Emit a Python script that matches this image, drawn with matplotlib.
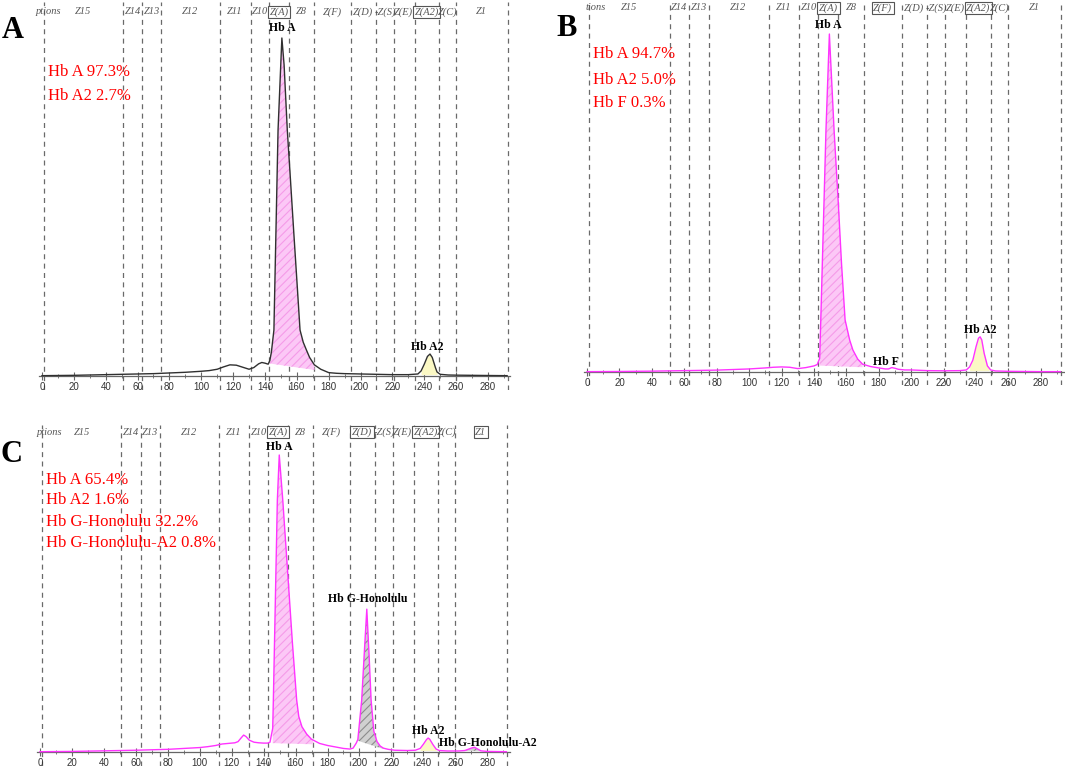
import numpy as np
import matplotlib
matplotlib.use("Agg")
import matplotlib.pyplot as plt

plt.rcParams['font.family'] = ['Liberation Serif', 'DejaVu Serif']
plt.rcParams['hatch.linewidth'] = 0.8

# zone boundaries (retention time) and zone names, same for all three runs
zone_edges = [1, 51, 63, 75, 112, 131, 142.5, 155, 171, 194, 210, 221, 234, 249, 260, 292.5]
zone_names = ["Z15", "Z14", "Z13", "Z12", "Z11", "Z10", "Z(A)", "Z8", "Z(F)", "Z(D)",
              "-Z(S)", "Z(E)", "Z(A2)", "Z(C)", "Z1"]
zone_mid = [26, 57, 69, 93, 121, 137, 149, 163, 182.5, 201.5, 215.5, 227, 241.5, 254.5, 276]

# panel A: normal
boxed_a = ["Z(A)", "Z(A2)"]
x_a = [0, 10, 20, 30, 40, 50, 60, 70, 80, 90, 100, 105, 110, 114, 118, 122, 126, 130, 133,
       136, 138, 140, 142, 143, 144, 145.6, 148.2, 150.6, 152, 154, 156, 158, 160, 162, 164,
       166, 168, 171, 175, 180, 185, 190, 200, 210, 220, 230, 236, 238, 240, 242, 243.6, 245,
       247, 248, 250, 255, 260, 270, 280, 292]
y_a = [0.1, 0.15, 0.2, 0.3, 0.4, 0.5, 0.6, 0.7, 0.9, 1.1, 1.4, 1.6, 2.0, 2.7, 3.3, 3.2, 2.6,
       2.0, 2.5, 3.6, 4.0, 3.8, 3.5, 4.5, 7.0, 13.6, 72.8, 100, 92, 72.8, 58, 43, 28.4, 13.6,
       10.0, 7.7, 5.5, 3.3, 2.0, 1.0, 0.8, 0.7, 0.6, 0.5, 0.4, 0.4, 0.6, 1.5, 3.5, 5.8, 6.5,
       5.5, 2.5, 1.2, 0.5, 0.3, 0.25, 0.2, 0.15, 0.1]
fills_a = [  # start, end, baseline at start, baseline at end, kind
    (143, 171, 3.7, 1.8, "pink"),
    (238, 248, 0.4, 0.4, "yellow"),
]
labels_a = [("Hb A", 150.6, 103.0), ("Hb A2", 241.6, 8.6)]
result_a = ["Hb A 97.3%", "Hb A2 2.7%"]
result_y_a = [90.0, 82.8]

# panel B: HbA2 raised
boxed_b = ["Z(A)", "Z(F)", "Z(A2)"]
x_b = [0, 10, 20, 40, 60, 80, 100, 110, 115, 120, 125, 130, 135, 140, 142, 143.5, 144.2,
       147.4, 149.5, 152.4, 155, 157, 159.2, 162, 164, 167, 170, 175, 180, 184, 186, 188, 190,
       192, 196, 200, 210, 220, 230, 234, 236, 238, 240, 241.5, 242.5, 243.5, 245, 247, 249,
       252, 260, 270, 280, 292]
y_b = [0.1, 0.12, 0.15, 0.25, 0.4, 0.55, 0.9, 1.2, 1.4, 1.5, 1.4, 1.0, 1.3, 1.8, 2.2, 4.0,
       15.4, 71.6, 100, 71.6, 50, 32, 15.4, 9.5, 6.5, 3.8, 2.3, 1.6, 1.2, 0.9, 0.9, 1.3, 1.1,
       0.8, 0.6, 0.6, 0.4, 0.35, 0.4, 0.6, 1.5, 3.5, 7.5, 10.0, 10.4, 9.5, 5.5, 1.8, 0.6, 0.3,
       0.2, 0.15, 0.1, 0.1]
fills_b = [
    (143.5, 170, 1.9, 1.4, "pink"),
    (236, 248, 0.4, 0.4, "yellow"),
]
labels_b = [("Hb A", 148.6, 102.7), ("Hb F", 184.5, 3.0), ("Hb A2", 242.4, 12.4)]
result_b = ["Hb A 94.7%", "Hb A2 5.0%", "Hb F 0.3%"]
result_y_b = [94.1, 86.4, 79.6]

# panel C: Hb G-Honolulu carrier
boxed_c = ["Z(A)", "Z(D)", "Z(A2)", "Z1"]
x_c = [0, 20, 40, 60, 80, 100, 105, 110, 114, 118, 122, 124, 126, 127.5, 129, 131, 134, 137,
       140, 142.5, 144, 145.7, 146.1, 148.6, 149.8, 152, 155, 158, 160.7, 162, 164, 167, 170,
       175, 180, 184, 190, 194, 196, 198, 199, 201.4, 203, 204.6, 206, 207.3, 209, 211, 213,
       215, 218, 222, 230, 235, 238, 240, 242, 243, 244, 246, 248, 250, 255, 262, 266, 268,
       270, 272, 274, 276, 280, 292]
y_c = [0.1, 0.2, 0.4, 0.6, 0.9, 1.5, 1.8, 2.2, 2.7, 2.9, 3.1, 3.5, 4.8, 5.7, 5.2, 4.0, 3.3,
       3.1, 3.0, 3.0, 3.3, 8.0, 17.5, 84.8, 100, 84.8, 61, 37, 17.5, 12, 8.5, 6.0, 4.3, 2.9,
       2.2, 1.8, 1.2, 1.0, 1.3, 3.0, 4.2, 17.5, 33, 48.1, 33, 17.5, 7.0, 3.5, 2.0, 1.3, 0.9,
       0.6, 0.5, 0.6, 1.2, 2.6, 4.2, 4.7, 4.3, 2.5, 1.0, 0.5, 0.35, 0.35, 0.5, 0.9, 1.3, 1.6,
       1.0, 0.4, 0.2, 0.1]
fills_c = [
    (145.7, 171, 3.0, 2.6, "pink"),
    (199, 215, 3.8, 1.0, "grey"),
    (238, 248, 0.5, 0.5, "yellow"),
    (267, 275, 0.4, 0.4, "grey"),
]
labels_c = [("Hb A", 150.0, 102.8), ("Hb G-Honolulu", 205.0, 51.4), ("Hb A2", 243.0, 7.2)]
result_c = ["Hb A 65.4%", "Hb A2 1.6%", "Hb G-Honolulu 32.2%", "Hb G-Honolulu-A2 0.8%"]
result_y_c = [91.6, 84.8, 77.6, 70.4]

fill_style = {
    "pink": dict(facecolor="#fcc8f6", edgecolor="#f59be9", hatch="////"),
    "yellow": dict(facecolor="#fbf8c4", edgecolor="#fbf8c4", hatch=None),
    "grey": dict(facecolor="#d0d0d0", edgecolor="#8c8c8c", hatch="////"),
}


def draw_panel(ax, xs, ys, line_color, boxed, fills, labels, results, result_y, opt_text, ylim):
    xs = np.array(xs)
    ys = np.array(ys)
    ax.set_xlim(-2, 294)
    ax.set_ylim(*ylim)
    for s in ["top", "left", "right"]:
        ax.spines[s].set_visible(False)
    ax.spines["bottom"].set_position(("data", 0))
    ax.spines["bottom"].set_color("#666666")
    ax.spines["bottom"].set_linewidth(0.9)
    ax.set_yticks([])
    ax.set_xticks(np.arange(0, 281, 20))
    ax.set_xticks(np.arange(0, 291, 10), minor=True)
    ax.tick_params(axis="x", which="major", direction="inout", length=6, width=0.8,
                   color="#666666", labelsize=7, labelcolor="#333333", pad=1)
    ax.tick_params(axis="x", which="minor", direction="inout", length=3, width=0.6,
                   color="#666666")
    for lab in ax.get_xticklabels():
        lab.set_family(["Liberation Sans", "DejaVu Sans"])

    for xe in zone_edges:
        ax.axvline(xe, color="#6a6a6a", lw=0.9, ls=(0, (4, 3.5)), zorder=1)

    ax.text(opt_text[1], 107.7, opt_text[0], ha="left", va="center", fontsize=7.5,
            style="italic", color="#555555")
    for name, xm in zip(zone_names, zone_mid):
        kw = {}
        if name in boxed:
            kw["bbox"] = dict(boxstyle="square,pad=0.15", fc="white", ec="#555555", lw=0.8)
        ax.text(xm, 107.7, name, ha="center", va="center", fontsize=7.5, style="italic",
                color="#555555", zorder=3, **kw)

    for x0, x1, b0, b1, kind in fills:
        m = (xs >= x0) & (xs <= x1)
        xf = np.concatenate([[x0], xs[m], [x1]])
        yf = np.interp(xf, xs, ys)
        bf = np.interp(xf, [x0, x1], [b0, b1])
        st = fill_style[kind]
        ax.fill_between(xf, bf, yf, facecolor=st["facecolor"], edgecolor=st["edgecolor"],
                        hatch=st["hatch"], linewidth=0, zorder=2)

    ax.plot(xs, ys, color=line_color, lw=1.0, zorder=4)

    for text, xl, yl in labels:
        ax.text(xl, yl, text, ha="center", va="center", fontsize=8.5, fontweight="bold",
                color="black", zorder=5)

    for text, yr in zip(results, result_y):
        ax.text(3.5, yr, text, ha="left", va="center", fontsize=12, color="#ff0000", zorder=5)


fig = plt.figure(figsize=(10.65, 7.68), dpi=100)

ax_a = fig.add_axes([0.03643, 0.49219, 0.44272, 0.50521])
draw_panel(ax_a, x_a, y_a, "#303030", boxed_a, fills_a, labels_a, result_a, result_y_a,
           ("ptions", -3.8), (-4.14, 110.65))

ax_b = fig.add_axes([0.54817, 0.49870, 0.45052, 0.49870])
draw_panel(ax_b, x_b, y_b, "#ff33ff", boxed_b, fills_b, labels_b, result_b, result_y_b,
           ("tions", -1.2), (-3.85, 109.47))

ax_c = fig.add_axes([0.03455, 0.00260, 0.44394, 0.44401])
draw_panel(ax_c, x_c, y_c, "#ff33ff", boxed_c, fills_c, labels_c, result_c, result_y_c,
           ("ptions", -2.2), (-4.71, 110.1))
ax_c.text(249.5, 3.1, "Hb G-Honolulu-A2", ha="left", va="center", fontsize=8.5,
          fontweight="bold", color="black", zorder=5)

fig.text(13 / 1065, 1 - 31 / 768, "A", fontsize=22, fontweight="bold", ha="center", va="center")
fig.text(567 / 1065, 1 - 28 / 768, "B", fontsize=22, fontweight="bold", ha="center", va="center")
fig.text(12 / 1065, 1 - 455 / 768, "C", fontsize=22, fontweight="bold", ha="center", va="center")

fig.savefig("out.png", dpi=100)
